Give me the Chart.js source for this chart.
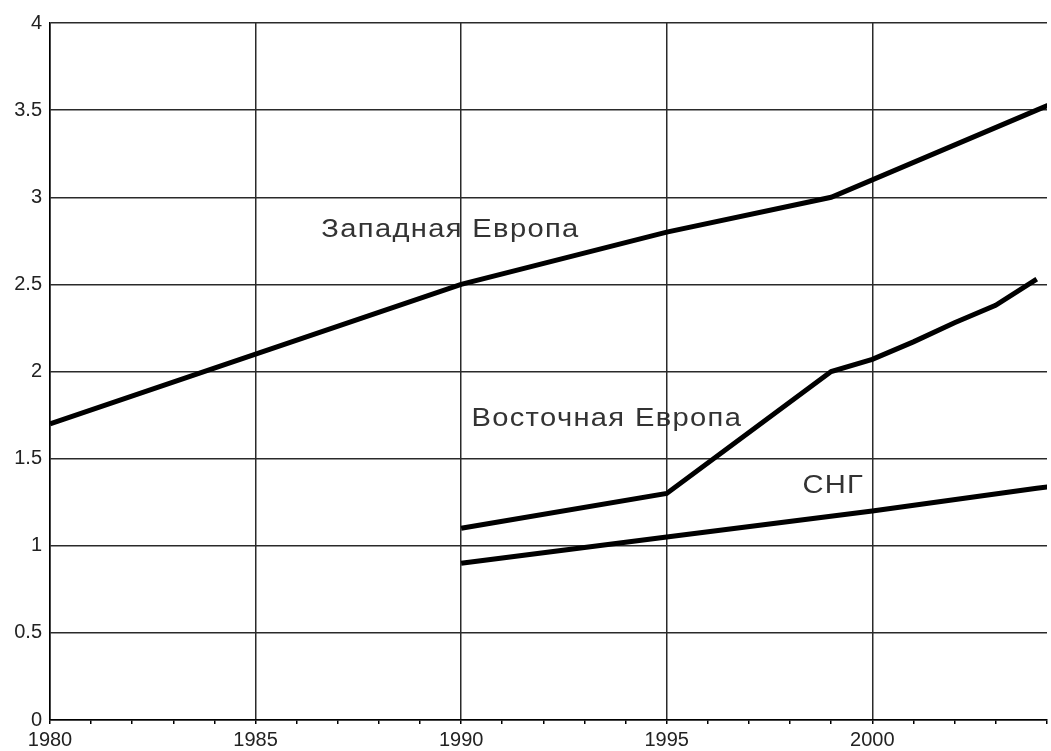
<!DOCTYPE html>
<html>
<head>
<meta charset="utf-8">
<script src="https://cdn.jsdelivr.net/npm/chart.js@4.4.0/dist/chart.umd.min.js"></script>
<style>
  html, body { margin: 0; padding: 0; background: #fff; }
  #wrap { width: 1051px; height: 751px; }
</style>
</head>
<body>
<div id="wrap"><canvas id="chart" width="1051" height="751"></canvas></div>
<script>
// Values
const westYears = [1980, 1985, 1990, 1995, 1999, 2004, 2005];
const westValues = [1.7, 2.1, 2.5, 2.8, 3.0, 3.5, 3.6];

const eastYears = [1990, 1995, 1999, 2000, 2001, 2002, 2003, 2004];
const eastValues = [1.1, 1.3, 2.0, 2.07, 2.17, 2.28, 2.38, 2.53];

const cisYears = [1990, 1995, 2000, 2004, 2005];
const cisValues = [0.9, 1.05, 1.2, 1.33, 1.36];

// text labels placed in data coordinates
const seriesLabels = [
  { text: 'Западная Европа', x: 1986.6, y: 2.77 },
  { text: 'Восточная Европа', x: 1990.25, y: 1.69 },
  { text: 'СНГ', x: 1998.3, y: 1.3 }
];

const toPoints = (xs, ys) => xs.map((x, i) => ({ x: x, y: ys[i] }));

const lineStyle = {
  borderColor: '#000',
  borderWidth: 5,
  pointRadius: 0,
  tension: 0,
  fill: false
};

// Draws the series names under the grid, like the original
// (the original glyphs are a bit wider than Liberation Sans, so stretch a little)
const seriesLabelPlugin = {
  id: 'seriesLabels',
  beforeDraw: (chart) => {
    const { ctx, scales: { x, y } } = chart;
    ctx.save();
    ctx.font = '26px "Liberation Sans", Arial, sans-serif';
    ctx.letterSpacing = '1.2px';
    ctx.fillStyle = '#333';
    ctx.textAlign = 'left';
    ctx.textBaseline = 'alphabetic';
    seriesLabels.forEach(l => {
      ctx.save();
      ctx.translate(x.getPixelForValue(l.x), y.getPixelForValue(l.y));
      ctx.scale(1.12, 1);
      ctx.fillText(l.text, 0, 0);
      ctx.restore();
    });
    ctx.restore();
  }
};

new Chart(document.getElementById('chart').getContext('2d'), {
  type: 'line',
  data: {
    datasets: [
      { ...lineStyle, label: 'Западная Европа', data: toPoints(westYears, westValues) },
      { ...lineStyle, label: 'Восточная Европа', data: toPoints(eastYears, eastValues) },
      { ...lineStyle, label: 'СНГ', data: toPoints(cisYears, cisValues) }
    ]
  },
  options: {
    responsive: false,
    animation: false,
    layout: { padding: { top: 23, right: 0, left: 0, bottom: 0 } },
    plugins: {
      legend: { display: false },
      tooltip: { enabled: false }
    },
    scales: {
      x: {
        type: 'linear',
        min: 1980,
        max: 2004.25,
        afterFit: (scale) => { scale.height = 31; },
        border: { color: '#000', width: 1.5 },
        grid: {
          color: (c) => (c.tick && c.tick.value % 5 === 0) ? '#2a2a2a' : 'rgba(0,0,0,0)',
          lineWidth: 1.5,
          drawTicks: true,
          tickLength: 4,
          tickColor: '#000',
          tickWidth: 1.5
        },
        ticks: {
          stepSize: 1,
          autoSkip: false,
          maxRotation: 0,
          padding: 4,
          color: '#222',
          font: { family: '"Liberation Sans", Arial, sans-serif', size: 20 },
          callback: (v) => (v % 5 === 0 ? String(v) : '')
        }
      },
      y: {
        min: 0,
        max: 4,
        afterFit: (scale) => { scale.width = 50; },
        border: { color: '#000', width: 1.5 },
        grid: {
          color: '#2a2a2a',
          lineWidth: 1.5,
          drawTicks: false
        },
        ticks: {
          stepSize: 0.5,
          padding: 8,
          color: '#222',
          font: { family: '"Liberation Sans", Arial, sans-serif', size: 20 },
          callback: (v) => String(v)
        }
      }
    }
  },
  plugins: [seriesLabelPlugin]
});
</script>
</body>
</html>
